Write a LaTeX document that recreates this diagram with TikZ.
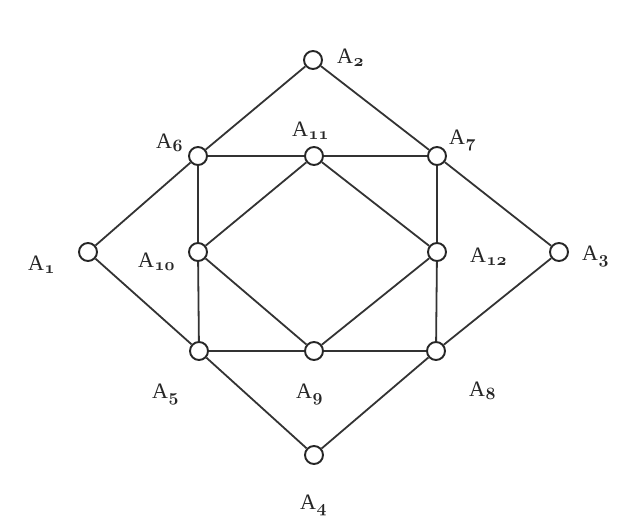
\documentclass[tikz,border=0pt]{standalone}
\usepackage{fontspec}
\setmainfont{Liberation Serif}
\newcommand\osnum[1]{{\usefont{OML}{cmm}{b}{it}#1}}
\newcommand\alab[1]{A\kern0.5pt\raisebox{-3pt}{\fontsize{17}{17}\selectfont\osnum{#1}}}
\begin{document}
\begin{tikzpicture}[x=1pt,y=-1pt,
  vtx/.style={circle,draw=black!85,line width=1.9pt,fill=white,minimum size=18pt,inner sep=0pt},
  lbl/.style={font=\fontsize{22}{24}\selectfont,text=black!85,inner sep=0pt,anchor=base west},
  edge/.style={line width=1.8pt,draw=black!80}]
\useasboundingbox (0,0) rectangle (618,521);
\node[vtx] (A2) at (313,60) {};
\node[vtx] (A6) at (198,156) {};
\node[vtx] (A11) at (314,156) {};
\node[vtx] (A7) at (437,156) {};
\node[vtx] (A1) at (88,252) {};
\node[vtx] (A10) at (198,252) {};
\node[vtx] (A12) at (437,252) {};
\node[vtx] (A3) at (559,252) {};
\node[vtx] (A5) at (199,351) {};
\node[vtx] (A9) at (314,351) {};
\node[vtx] (A8) at (436,351) {};
\node[vtx] (A4) at (314,455) {};
\foreach \a/\b in {A2/A6,A2/A7,A6/A11,A11/A7,A6/A1,A1/A5,A7/A3,A3/A8,A5/A4,A4/A8,A5/A9,A9/A8,A6/A10,A10/A5,A7/A12,A12/A8,A11/A10,A11/A12,A10/A9,A12/A9}
  \draw[edge] (\a) -- (\b);
\node[lbl] (L2) at (337,64) {\alab{2}};
\node[lbl] (L6) at (156,149) {\alab{6}};
\node[lbl] (L11) at (292,137) {\alab{11}};
\node[lbl] (L7) at (449,145) {\alab{7}};
\node[lbl] (L1) at (28,270) {\alab{1}};
\node[lbl] (L10) at (138,268) {\alab{10}};
\node[lbl] (L12) at (470,262) {\alab{12}};
\node[lbl] (L3) at (582,261) {\alab{3}};
\node[lbl] (L5) at (152,398) {\alab{5}};
\node[lbl] (L9) at (296,398) {\alab{9}};
\node[lbl] (L8) at (469,396) {\alab{8}};
\node[lbl] (L4) at (300,509) {\alab{4}};
\end{tikzpicture}
\end{document}
